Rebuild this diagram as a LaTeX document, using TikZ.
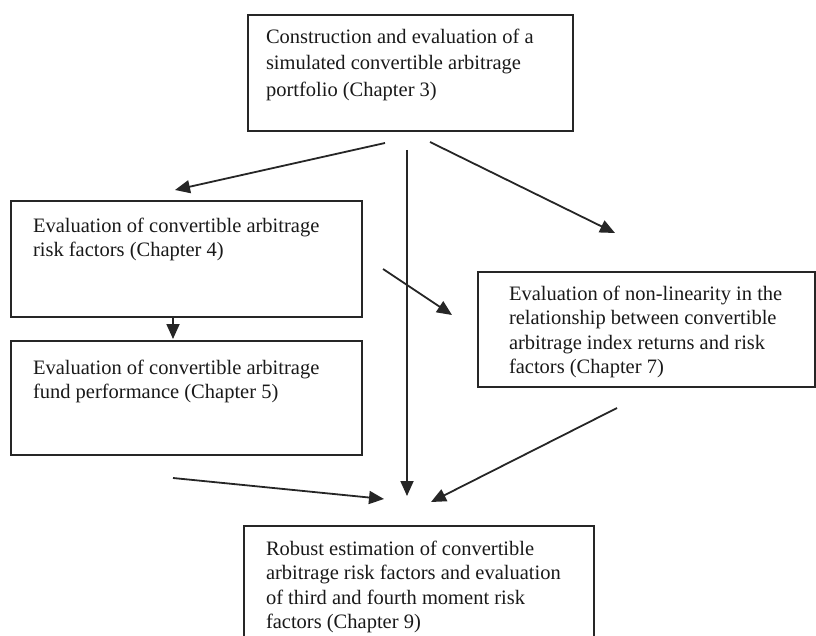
\documentclass[tikz,border=0pt]{standalone}
\usepackage{fontspec}
\setmainfont{Liberation Serif}
\usetikzlibrary{arrows.meta}

\begin{document}
\begin{tikzpicture}[x=1pt, y=-1pt,
  font=\fontsize{20.5}{24.4}\selectfont,
  chapbox/.style={draw=black!85, line width=2pt, anchor=north west,
    text=black!90},
  arr/.style={draw=black!85, line width=1.8pt,
    -{Triangle[length=15pt, width=13pt]}}]
  \useasboundingbox (0,0) rectangle (816,636);

  % Chapter boxes: nodes
  \node [chapbox, inner xsep=18pt, inner ysep=14pt] (chthree) at (247,14) %
  {\parbox[t][88pt][t]{289pt}{\raggedright\fontsize{20.5}{26.5}\selectfont
    Construction and evaluation of a\\
    simulated convertible arbitrage\\
    portfolio (Chapter 3)}};
  \node [chapbox, inner xsep=22pt, inner ysep=17pt] (chfour) at (10,200) %
  {\parbox[t][82pt][t]{307pt}{\raggedright
    Evaluation of convertible arbitrage\\
    risk factors (Chapter 4)}};
  \node [chapbox, inner xsep=22pt, inner ysep=19pt] (chfive) at (10,340) %
  {\parbox[t][76pt][t]{307pt}{\raggedright
    Evaluation of convertible arbitrage\\
    fund performance (Chapter 5)}};
  \node [chapbox, inner xsep=31pt, inner ysep=14pt] (chseven) at (477,271) %
  {\parbox[t][87pt][t]{275pt}{\raggedright
    Evaluation of non-linearity in the\\
    relationship between convertible\\
    arbitrage index returns and risk\\
    factors (Chapter 7)}};
  \node [chapbox, inner xsep=22pt, inner ysep=15pt] (chnine) at (243,525) %
  {\parbox[t][90pt][t]{306pt}{\raggedright
    Robust estimation of convertible\\
    arbitrage risk factors and evaluation\\
    of third and fourth moment risk\\
    factors (Chapter 9)}};

  % Arrow ends: coordinates
  \coordinate (fromThreeL) at (385,143);
  \coordinate (toFour) at (175,190);
  \coordinate (fromThreeM) at (407,150);
  \coordinate (toNineM) at (407,496);
  \coordinate (fromThreeR) at (430,142);
  \coordinate (toSeven) at (615,233);
  \coordinate (fromFourR) at (383,269);
  \coordinate (toSevenL) at (452,315);
  \coordinate (fromFourB) at (173,316);
  \coordinate (toFive) at (173,339);
  \coordinate (fromFive) at (173,478);
  \coordinate (toNineL) at (384,499);
  \coordinate (fromSeven) at (617,408);
  \coordinate (toNineR) at (431,502);

  % Arrows: connections
  \draw [arr] (fromThreeL) -- (toFour);
  \draw [arr] (fromThreeM) -- (toNineM);
  \draw [arr] (fromThreeR) -- (toSeven);
  \draw [arr] (fromFourR) -- (toSevenL);
  \draw [arr] (fromFourB) -- (toFive);
  \draw [arr] (fromFive) -- (toNineL);
  \draw [arr] (fromSeven) -- (toNineR);
\end{tikzpicture}
\end{document}
